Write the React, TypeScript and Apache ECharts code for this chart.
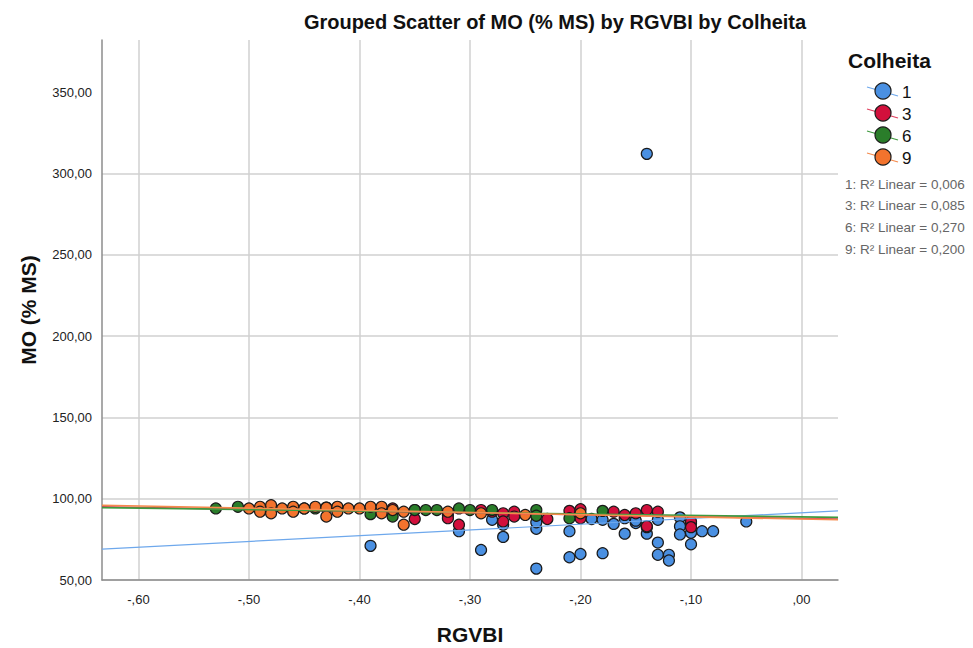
import React, { useEffect, useRef } from "react";
import * as echarts from "echarts";

// Harvest groups (Colheita) and their colours
const groups = ["1", "3", "6", "9"];
const groupColors = ["#4a90e2", "#d2103c", "#2a7d2a", "#f3732d"];
const fitColors = ["#6ea8ec", "#e0405f", "#3f9a3f", "#f58a4c"];
const rSquaredLabels = ["0,006", "0,085", "0,270", "0,200"];

// Axis limits and tick values
const xMin = -0.633;
const xMax = 0.033;
const xTicks = [-0.6, -0.5, -0.4, -0.3, -0.2, -0.1, 0.0];
const yMin = 50;
const yMax = 382;
const yStep = 50;
const yTicks = [50, 100, 150, 200, 250, 300, 350];

// Linear fit values at the left and right ends of the x range
const fitLeft = [69, 95, 94.5, 96];
const fitRight = [92.5, 87.5, 88.5, 87];

// RGVBI vs MO (% MS) per harvest
const colheita1: [number, number][] = [
  [-0.39, 71], [-0.31, 80], [-0.29, 68.5], [-0.28, 87], [-0.27, 76.5], [-0.27, 84],
  [-0.24, 57], [-0.24, 81.5], [-0.24, 85.5], [-0.21, 80], [-0.21, 64], [-0.2, 66],
  [-0.19, 87.5], [-0.18, 66.5], [-0.18, 87], [-0.17, 84.5], [-0.16, 78.5], [-0.16, 88],
  [-0.15, 85], [-0.15, 86.5], [-0.14, 312], [-0.14, 78.5], [-0.14, 82.5], [-0.13, 87],
  [-0.13, 73], [-0.13, 65.5], [-0.12, 65.5], [-0.12, 62], [-0.11, 88.5], [-0.11, 83],
  [-0.11, 78], [-0.1, 85], [-0.1, 72], [-0.1, 79], [-0.09, 80], [-0.08, 80], [-0.05, 86],
];
const colheita3: [number, number][] = [
  [-0.49, 94.5], [-0.46, 94.5], [-0.43, 94.5], [-0.42, 94.5], [-0.37, 94], [-0.35, 93],
  [-0.35, 87.5], [-0.32, 90], [-0.32, 88], [-0.31, 84], [-0.29, 93], [-0.28, 92],
  [-0.27, 91], [-0.27, 86], [-0.26, 92], [-0.26, 89], [-0.23, 87.5], [-0.21, 92.5],
  [-0.2, 93.5], [-0.2, 88], [-0.17, 92], [-0.16, 90], [-0.15, 91], [-0.14, 93],
  [-0.14, 83], [-0.13, 92], [-0.1, 86], [-0.1, 82.5],
];
const colheita6: [number, number][] = [
  [-0.53, 94], [-0.51, 95], [-0.45, 94], [-0.44, 94], [-0.39, 94], [-0.39, 90.5],
  [-0.37, 89], [-0.35, 93], [-0.34, 93], [-0.33, 93], [-0.31, 94], [-0.3, 93],
  [-0.28, 93], [-0.24, 93], [-0.24, 89.5], [-0.21, 88], [-0.18, 92.5],
];
const colheita9: [number, number][] = [
  [-0.5, 94], [-0.49, 95], [-0.49, 92], [-0.48, 96], [-0.48, 91], [-0.47, 94],
  [-0.46, 95], [-0.46, 92], [-0.45, 94], [-0.44, 95], [-0.43, 94.5], [-0.43, 89],
  [-0.42, 95], [-0.42, 92], [-0.41, 94], [-0.4, 94], [-0.39, 95], [-0.38, 95],
  [-0.38, 91], [-0.37, 93], [-0.36, 92], [-0.36, 84], [-0.32, 92], [-0.29, 91],
  [-0.25, 90], [-0.2, 91],
];
const groupData = [colheita1, colheita3, colheita6, colheita9];

const FONT = "'Liberation Sans', Arial, sans-serif";

const fmtX = (v: number) => {
  const s = Math.abs(v).toFixed(2).replace("0.", ",");
  return (v < -1e-9 ? "-" : "") + s;
};
const fmtY = (v: number) => v.toFixed(2).replace(".", ",");

export default function App() {
  const ref = useRef<HTMLDivElement>(null);

  useEffect(() => {
    if (!ref.current) return;
    const chart = echarts.init(ref.current, null, { renderer: "svg" });

    const scatterSeries = groups.map((g, i) => ({
      type: "scatter",
      name: g,
      data: groupData[i],
      symbol: "circle",
      symbolSize: 11,
      itemStyle: { color: groupColors[i], borderColor: "#1a1a1a", borderWidth: 1.2, opacity: 1 },
      z: 2,
    }));

    const fitSeries = groups.map((g, i) => ({
      type: "line",
      name: g + " fit",
      data: [
        [xMin, fitLeft[i]],
        [xMax, fitRight[i]],
      ],
      showSymbol: false,
      symbol: "none",
      silent: true,
      lineStyle: { color: fitColors[i], width: i === 0 ? 1.2 : 1.6 },
      z: 3,
    }));

    const legendGraphics: any[] = [
      {
        type: "text",
        x: 848,
        y: 60,
        style: { text: "Colheita", font: `bold 21px ${FONT}`, fill: "#111", verticalAlign: "middle" },
      },
    ];
    const legendY = [91, 113, 135, 157];
    groups.forEach((g, i) => {
      const cy = legendY[i];
      legendGraphics.push(
        {
          type: "line",
          shape: { x1: 867, y1: cy - 4, x2: 898, y2: cy + 5 },
          style: { stroke: fitColors[i], lineWidth: 1.3 },
        },
        {
          type: "circle",
          shape: { cx: 883, cy, r: 8 },
          style: { fill: groupColors[i], stroke: "#1a1a1a", lineWidth: 1.2 },
        },
        {
          type: "text",
          x: 902,
          y: cy + 1,
          style: { text: g, font: `17px ${FONT}`, fill: "#111", verticalAlign: "middle" },
        }
      );
    });
    const r2Y = [184, 205, 227, 249];
    groups.forEach((g, i) => {
      legendGraphics.push({
        type: "text",
        x: 845,
        y: r2Y[i],
        style: {
          text: `${g}: R² Linear = ${rSquaredLabels[i]}`,
          font: `13.5px ${FONT}`,
          fill: "#666",
          verticalAlign: "middle",
        },
      });
    });

    chart.setOption({
      animation: false,
      backgroundColor: "#fff",
      grid: { left: 102, right: 135, top: 40, bottom: 68, containLabel: false },
      xAxis: {
        type: "value",
        min: xMin,
        max: xMax,
        axisLine: { show: true, onZero: false, lineStyle: { color: "#8c8c8c", width: 1.5 } },
        axisTick: { show: false, customValues: xTicks },
        axisLabel: {
          customValues: xTicks,
          formatter: fmtX,
          color: "#222",
          fontSize: 13,
          fontFamily: FONT,
          margin: 13,
        },
        splitLine: { show: true, lineStyle: { color: "#d0d0d0", width: 1.5 } },
      },
      yAxis: {
        type: "value",
        min: yMin,
        max: yMax,
        interval: yStep,
        axisLine: { show: true, onZero: false, lineStyle: { color: "#8c8c8c", width: 1.5 } },
        axisTick: { show: false, customValues: yTicks },
        axisLabel: {
          customValues: yTicks,
          formatter: fmtY,
          color: "#222",
          fontSize: 13,
          fontFamily: FONT,
          margin: 10,
        },
        splitLine: { show: true, showMaxLine: false, lineStyle: { color: "#d0d0d0", width: 1.5 } },
      },
      graphic: [
        {
          type: "text",
          x: 555,
          y: 22,
          style: {
            text: "Grouped Scatter of MO (% MS) by RGVBI by Colheita",
            font: `bold 20px ${FONT}`,
            fill: "#111",
            align: "center",
            verticalAlign: "middle",
          },
        },
        {
          type: "text",
          x: 28,
          y: 310,
          rotation: Math.PI / 2,
          style: {
            text: "MO (% MS)",
            font: `bold 21px ${FONT}`,
            fill: "#111",
            align: "center",
            verticalAlign: "middle",
          },
        },
        {
          type: "text",
          x: 470,
          y: 634,
          style: {
            text: "RGVBI",
            font: `bold 21px ${FONT}`,
            fill: "#111",
            align: "center",
            verticalAlign: "middle",
          },
        },
        ...legendGraphics,
      ],
      series: [...scatterSeries, ...fitSeries],
    });

    return () => chart.dispose();
  }, []);

  return (
    <div
      ref={ref}
      style={{ position: "fixed", left: 0, top: 0, width: 973, height: 648 }}
    />
  );
}
